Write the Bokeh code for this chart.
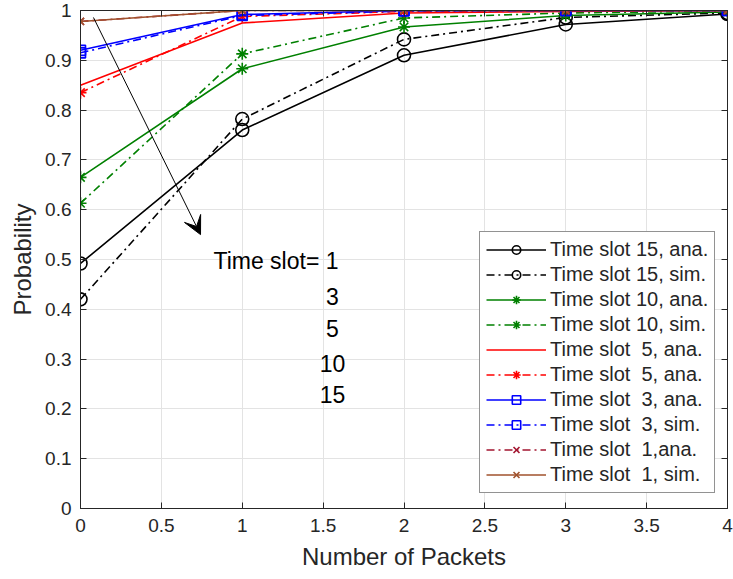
from bokeh.plotting import figure
from bokeh.models import (ColumnDataSource, LinearAxis, FixedTicker, Legend, LegendItem,
                          Arrow, VeeHead, Range1d, CustomJSTickFormatter)
from bokeh.core.properties import value
from bokeh.embed import file_html
from bokeh.resources import INLINE

packets = [0, 1, 2, 3, 4]

slot15_ana = [0.492, 0.760, 0.910, 0.972, 0.993]
slot15_sim = [0.420, 0.782, 0.942, 0.986, 0.995]
slot10_ana = [0.665, 0.883, 0.967, 0.990, 0.997]
slot10_sim = [0.613, 0.913, 0.985, 0.995, 0.999]
slot5_ana = [0.850, 0.975, 0.995, 0.998, 1.000]
slot5_sim = [0.835, 0.988, 0.998, 1.000, 1.000]
slot3_ana = [0.920, 0.992, 1.000, 1.000, 1.000]
slot3_sim = [0.915, 0.990, 0.999, 1.000, 1.000]
slot1_ana = [0.978, 1.000, 1.000, 1.000, 1.000]
slot1_sim = [0.978, 1.000, 1.000, 1.000, 1.000]

series_names = ["Time slot 15, ana.", "Time slot 15, sim.", "Time slot 10, ana.", "Time slot 10, sim.",
                "Time slot\u00a0 5, ana.", "Time slot\u00a0 5, ana.", "Time slot\u00a0 3, ana.",
                "Time slot\u00a0 3, sim.", "Time slot\u00a0 1,ana.", "Time slot\u00a0 1, sim."]

x_ticks = [0, 0.5, 1, 1.5, 2, 2.5, 3, 3.5, 4]
x_tick_labels = ["0", "0.5", "1", "1.5", "2", "2.5", "3", "3.5", "4"]
y_ticks = [0, 0.1, 0.2, 0.3, 0.4, 0.5, 0.6, 0.7, 0.8, 0.9, 1]
y_tick_labels = ["0", "0.1", "0.2", "0.3", "0.4", "0.5", "0.6", "0.7", "0.8", "0.9", "1"]

# annotation text: label, x, y
annot_text = ["Time slot= 1", "3", "5", "10", "15"]
annot_x = [0.822, 1.558, 1.558, 1.558, 1.558]
annot_y = [0.496, 0.426, 0.362, 0.292, 0.228]
annot_align = ["left", "center", "center", "center", "center"]
arrow_start = (0.08, 0.986)
arrow_end = (0.742, 0.55)

FONT = "Liberation Sans"
TXT = "#262626"

p = figure(width=733, height=576, output_backend="svg", toolbar_location=None,
           x_range=Range1d(0, 4), y_range=Range1d(0, 1),
           min_border_left=80, min_border_right=6, min_border_top=10, min_border_bottom=68)
p.background_fill_color = "white"
p.border_fill_color = "white"
p.outline_line_color = TXT
p.outline_line_width = 1

for ax in (p.xaxis[0], p.yaxis[0]):
    ax.major_label_text_font = FONT
    ax.major_label_text_font_size = "19px"
    ax.major_label_text_color = TXT
    ax.axis_label_text_font = FONT
    ax.axis_label_text_font_size = "24px"
    ax.axis_label_text_font_style = "normal"
    ax.axis_label_text_color = TXT
    ax.major_tick_in = 6
    ax.major_tick_out = 0
    ax.minor_tick_in = 0
    ax.minor_tick_out = 0
    ax.axis_line_color = TXT
    ax.major_tick_line_color = TXT

p.xaxis[0].ticker = FixedTicker(ticks=x_ticks)
p.xaxis[0].major_label_overrides = {t: l for t, l in zip(x_ticks, x_tick_labels)}
p.yaxis[0].ticker = FixedTicker(ticks=y_ticks)
p.yaxis[0].major_label_overrides = {t: l for t, l in zip(y_ticks, y_tick_labels)}
p.xaxis[0].axis_label = "Number of Packets"
p.yaxis[0].axis_label = "Probability"
p.xaxis[0].major_label_standoff = 10
p.xaxis[0].axis_label_standoff = 8
p.yaxis[0].major_label_standoff = 9
p.yaxis[0].axis_label_standoff = 6

# mirrored axes (box on)
blank = CustomJSTickFormatter(code="return ''")
ra = LinearAxis(ticker=FixedTicker(ticks=y_ticks), formatter=blank, major_label_text_color=None,
                major_tick_in=6, major_tick_out=0, minor_tick_in=0, minor_tick_out=0,
                major_label_standoff=0, axis_line_color=TXT, major_tick_line_color=TXT)
ta = LinearAxis(ticker=FixedTicker(ticks=x_ticks), formatter=blank, major_label_text_color=None,
                major_tick_in=6, major_tick_out=0, minor_tick_in=0, minor_tick_out=0,
                major_label_standoff=0, axis_line_color=TXT, major_tick_line_color=TXT)
p.add_layout(ra, "right")
p.add_layout(ta, "above")

p.xgrid.ticker = FixedTicker(ticks=x_ticks)
p.ygrid.ticker = FixedTicker(ticks=y_ticks)
p.grid.grid_line_color = "#e3e3e3"
p.grid.grid_line_width = 1

solid = "solid"
dashdot = "8 4 2 4"
series = [
    (slot15_ana, "black", solid, "circle", 13),
    (slot15_sim, "black", dashdot, "circle", 13),
    (slot10_ana, "#008000", solid, "asterisk", 12),
    (slot10_sim, "#008000", dashdot, "asterisk", 12),
    (slot5_ana, "#ff0000", solid, None, 0),
    (slot5_sim, "#ff0000", dashdot, "asterisk", 12),
    (slot3_ana, "#0000ff", solid, "square", 10),
    (slot3_sim, "#0000ff", dashdot, "square", 10),
    (slot1_ana, "#a2142f", dashdot, "x", 10),
    (slot1_sim, "#a0522d", solid, "x", 10),
]

items = []
for (vals, col, dash, mk, sz), name in zip(series, series_names):
    src = ColumnDataSource(dict(x=packets, y=vals))
    rs = [p.line("x", "y", source=src, line_color=col, line_width=1.6, line_dash=dash)]
    if mk:
        rs.append(p.scatter("x", "y", source=src, marker=mk, size=sz, line_color=col,
                            fill_color=None, line_width=1.6))
    items.append(LegendItem(label=name, renderers=rs))

legend = Legend(items=items, location=(399, 15), label_text_font=FONT,
                label_text_font_size="20px", label_text_color=TXT,
                glyph_width=60, glyph_height=21, label_height=21, spacing=2,
                label_standoff=4, padding=6, margin=0, border_line_color="#262626",
                border_line_width=1, background_fill_alpha=1)
p.add_layout(legend, "center")

src_t = ColumnDataSource(dict(x=annot_x, y=annot_y, t=annot_text, a=annot_align))
p.text("x", "y", text="t", source=src_t, text_font=value(FONT), text_font_size="23px",
       text_color="black", text_align="a", text_baseline="middle")

p.add_layout(Arrow(x_start=arrow_start[0], y_start=arrow_start[1],
                   x_end=arrow_end[0], y_end=arrow_end[1], line_color="black", line_width=1,
                   end=VeeHead(size=18, fill_color="black", line_color="black")))

open("out.html", "w").write(file_html(p, INLINE))
